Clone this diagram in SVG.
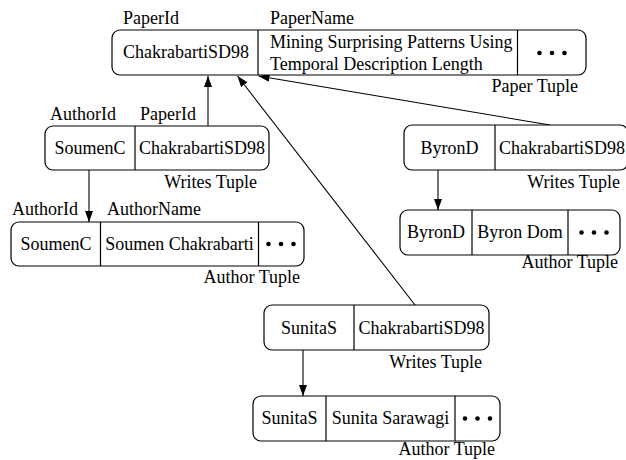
<svg xmlns="http://www.w3.org/2000/svg" width="626" height="460" viewBox="0 0 626 460">
<defs>
<marker id="arr" markerWidth="12" markerHeight="9" refX="11" refY="4" orient="auto" markerUnits="userSpaceOnUse">
<path d="M0,0 L11,4 L0,8 z" fill="#000"/>
</marker>
<style>
text{font-family:"Liberation Serif","Times New Roman",serif;font-size:18px;fill:#000}
.c{text-anchor:middle}
.e{text-anchor:end}
.box{fill:#fff;stroke:#000;stroke-width:1.2}
.div{stroke:#000;stroke-width:1.2}
.conn{stroke:#000;stroke-width:1.1;fill:none;marker-end:url(#arr)}
</style>
</defs>
<rect width="626" height="460" fill="#fff"/>
<g id="connectors">
<line class="conn" x1="208" y1="126" x2="208" y2="76"/>
<line class="conn" x1="415" y1="305" x2="237.5" y2="76"/>
<line class="conn" x1="550" y1="125" x2="258.5" y2="76"/>
<line class="conn" x1="89" y1="170" x2="89" y2="222"/>
<line class="conn" x1="438" y1="170" x2="438" y2="210"/>
<line class="conn" x1="303" y1="350" x2="303" y2="396"/>
</g>
<g id="paper">
<rect class="box" x="112" y="30" width="474" height="45" rx="8"/>
<line class="div" x1="258" y1="30" x2="258" y2="75"/>
<line class="div" x1="517.5" y1="30" x2="517.5" y2="75"/>
<text class="c" x="186" y="58">ChakrabartiSD98</text>
<text x="270" y="48">Mining Surprising Patterns Using</text>
<text x="270" y="70">Temporal Description Length</text>
<circle cx="539.5" cy="53" r="2.3"/><circle cx="552" cy="53" r="2.3"/><circle cx="564.5" cy="53" r="2.3"/>
<text x="123" y="24">PaperId</text>
<text x="270" y="24">PaperName</text>
<text class="e" x="578" y="92">Paper Tuple</text>
</g>
<g id="writes-soumen">
<rect class="box" x="45" y="126" width="224" height="44" rx="8"/>
<line class="div" x1="135" y1="126" x2="135" y2="170"/>
<text class="c" x="90" y="154">SoumenC</text>
<text class="c" x="202" y="154">ChakrabartiSD98</text>
<text x="50" y="120">AuthorId</text>
<text x="140" y="120">PaperId</text>
<text class="e" x="257" y="188">Writes Tuple</text>
</g>
<g id="author-soumen">
<rect class="box" x="11" y="222" width="293" height="44" rx="8"/>
<line class="div" x1="100.5" y1="222" x2="100.5" y2="266"/>
<line class="div" x1="258.5" y1="222" x2="258.5" y2="266"/>
<text class="c" x="56" y="250">SoumenC</text>
<text class="c" x="179.5" y="250">Soumen Chakrabarti</text>
<circle cx="268.5" cy="244" r="2.3"/><circle cx="281" cy="244" r="2.3"/><circle cx="293.5" cy="244" r="2.3"/>
<text x="12" y="215">AuthorId</text>
<text x="107" y="215">AuthorName</text>
<text class="e" x="300" y="283">Author Tuple</text>
</g>
<g id="writes-byron">
<rect class="box" x="404" y="125" width="224" height="45" rx="8"/>
<line class="div" x1="495" y1="125" x2="495" y2="170"/>
<text class="c" x="449.5" y="154">ByronD</text>
<text class="c" x="562" y="154">ChakrabartiSD98</text>
<text class="e" x="620" y="188">Writes Tuple</text>
</g>
<g id="author-byron">
<rect class="box" x="400" y="210" width="220" height="45" rx="8"/>
<line class="div" x1="472" y1="210" x2="472" y2="255"/>
<line class="div" x1="568" y1="210" x2="568" y2="255"/>
<text class="c" x="436" y="238">ByronD</text>
<text class="c" x="520" y="238">Byron Dom</text>
<circle cx="581.5" cy="232.5" r="2.3"/><circle cx="594" cy="232.5" r="2.3"/><circle cx="606.5" cy="232.5" r="2.3"/>
<text class="e" x="618" y="268">Author Tuple</text>
</g>
<g id="writes-sunita">
<rect class="box" x="264" y="305" width="225" height="45" rx="8"/>
<line class="div" x1="354" y1="305" x2="354" y2="350"/>
<text class="c" x="309" y="334">SunitaS</text>
<text class="c" x="421.5" y="334">ChakrabartiSD98</text>
<text class="e" x="482" y="368">Writes Tuple</text>
</g>
<g id="author-sunita">
<rect class="box" x="253" y="396" width="247" height="45" rx="8"/>
<line class="div" x1="326" y1="396" x2="326" y2="441"/>
<line class="div" x1="455" y1="396" x2="455" y2="441"/>
<text class="c" x="289.5" y="424">SunitaS</text>
<text class="c" x="390.5" y="424">Sunita Sarawagi</text>
<circle cx="465" cy="418.5" r="2.3"/><circle cx="477.5" cy="418.5" r="2.3"/><circle cx="490" cy="418.5" r="2.3"/>
<text class="e" x="495" y="455">Author Tuple</text>
</g>
</svg>
